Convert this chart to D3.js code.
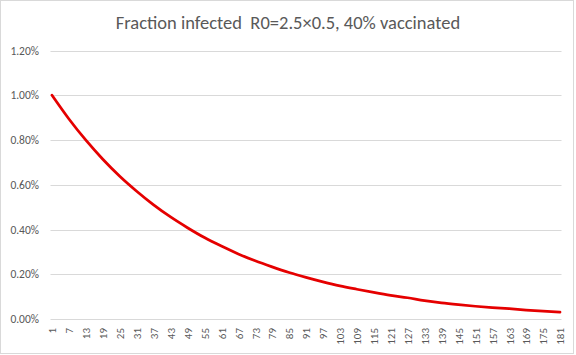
<!DOCTYPE html>
<html><head><meta charset="utf-8">
<script src="https://cdn.jsdelivr.net/npm/d3@7"></script>
<style>body{margin:0;background:#fff}svg{display:block}</style>
</head><body>
<svg id="c" width="576" height="355"></svg>
<script>
const title = "Fraction infected  R0=2.5\u00d70.5, 40% vaccinated";
const days = d3.range(1, 182);                 // category axis 1..181
const tickDays = [1,7,13,19,25,31,37,43,49,55,61,67,73,79,85,91,97,103,109,115,121,127,133,139,145,151,157,163,169,175,181];
// fraction infected (%) read at each tick day
const fraction = [1.000,0.894,0.799,0.714,0.638,0.571,0.510,0.456,0.408,0.364,0.326,0.291,0.260,0.233,0.208,0.186,0.166,0.148,0.133,0.119,0.106,0.095,0.082,0.072,0.064,0.057,0.051,0.046,0.040,0.035,0.031];
const yTicks = [0,0.2,0.4,0.6,0.8,1.0,1.2];

const svg = d3.select("#c");
const font = "Carlito, Calibri, 'Liberation Sans', sans-serif";
svg.append("rect").attr("x",0.5).attr("y",0.5).attr("width",573).attr("height",353)
  .attr("fill","#fff").attr("stroke","#d9d9d9");

const x = d3.scalePoint().domain(days).range([50.6, 561.4]).padding(0.5);
const y = d3.scaleLinear().domain([0, 1.2]).range([319, 50.5]);

// gridlines
svg.append("g").selectAll("line").data(yTicks).join("line")
  .attr("x1",50.5).attr("x2",561.5)
  .attr("y1",d=>Math.round(y(d))+0.5).attr("y2",d=>Math.round(y(d))+0.5)
  .attr("stroke","#d9d9d9").attr("stroke-width",1);

// y axis labels
const yAxis = d3.axisLeft(y).tickValues(yTicks).tickFormat(d=>d.toFixed(2)+"%").tickSize(0).tickPadding(0);
const gy = svg.append("g").attr("transform","translate(39,0)").call(yAxis);
gy.select(".domain").remove();
gy.selectAll("text").attr("fill","#595959").style("font-family",font).style("font-size","11.5px");

// x axis labels
const xAxis = d3.axisBottom(x).tickValues(tickDays).tickSize(0).tickPadding(0);
const gx = svg.append("g").attr("transform","translate(0,319)").call(xAxis);
gx.select(".domain").remove();
gx.selectAll("text")
  .attr("transform","rotate(-90)")
  .attr("x",-9).attr("y",0).attr("dy","0.35em")
  .attr("text-anchor","end")
  .attr("fill","#595959").style("font-family",font).style("font-size","11px");

// line
const line = d3.line().x((d,i)=>x(tickDays[i])).y(d=>y(d)).curve(d3.curveMonotoneX);
svg.append("path").datum(fraction).attr("d",line)
  .attr("fill","none").attr("stroke","#e50000").attr("stroke-width",2.75)
  .attr("stroke-linecap","round").attr("stroke-linejoin","round");

// title
svg.append("text").attr("x",288).attr("y",28.5).attr("text-anchor","middle")
  .attr("fill","#595959").style("font-family",font).style("font-size","18.5px")
  .style("white-space","pre").attr("xml:space","preserve")
  .text(title);
</script>
</body></html>
